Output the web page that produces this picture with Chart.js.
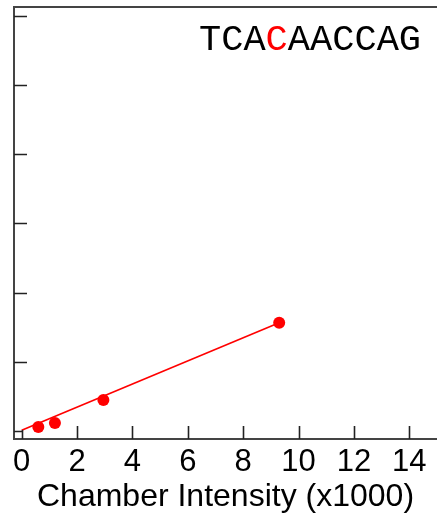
<!DOCTYPE html>
<html>
<head>
<meta charset="utf-8">
<script src="https://cdn.jsdelivr.net/npm/chart.js@4/dist/chart.umd.min.js"></script>
<style>
html,body{margin:0;padding:0;background:#fff;}
#wrap{width:437px;height:516px;position:relative;}
</style>
</head>
<body>
<div id="wrap"><canvas id="c" width="437" height="516"></canvas></div>
<script>
// Data
const intensityX = [0.6, 1.2, 2.95, 9.3];
const signalY = [0.058, 0.116, 0.448, 1.564];
const fitX = [0, 9.3];
const fitY = [0.01, 1.564];
const xTicks = [0, 2, 4, 6, 8, 10, 12, 14];
const yTicks = [0, 1, 2, 3, 4, 5, 6];
const seqLeft = "TCA";
const seqMark = "C";
const seqRight = "AACCAG";
const xTitle = "Chamber Intensity (x1000)";

const pts = intensityX.map((x, i) => ({x: x, y: signalY[i]}));
const fit = fitX.map((x, i) => ({x: x, y: fitY[i]}));

const framePlugin = {
  id: 'frame',
  afterDraw(chart) {
    const ctx = chart.ctx;
    const a = chart.chartArea;
    const xs = chart.scales.x, ys = chart.scales.y;
    ctx.save();
    // axis lines
    ctx.strokeStyle = '#444';
    ctx.lineWidth = 2;
    ctx.beginPath();
    ctx.moveTo(a.left - 1, a.top); ctx.lineTo(chart.width, a.top);
    ctx.moveTo(a.left, a.top); ctx.lineTo(a.left, a.bottom);
    ctx.moveTo(a.left - 1, a.bottom); ctx.lineTo(chart.width, a.bottom);
    ctx.stroke();
    // inward ticks
    ctx.strokeStyle = '#222';
    ctx.lineWidth = 1.6;
    ctx.beginPath();
    yTicks.forEach(v => {
      const py = Math.round(ys.getPixelForValue(v)) + 0.5;
      const len = v === 0 ? 8 : 13;
      ctx.moveTo(a.left, py); ctx.lineTo(a.left + len, py);
    });
    xTicks.forEach(v => {
      const px = Math.round(xs.getPixelForValue(v)) + 0.5;
      const len = v === 0 ? 9 : 13;
      ctx.moveTo(px, a.bottom); ctx.lineTo(px, a.bottom - len);
    });
    ctx.stroke();
    // sequence label
    ctx.font = '37px "Liberation Mono", "DejaVu Sans Mono", monospace';
    ctx.textBaseline = 'alphabetic';
    let x = 199;
    const y = 50;
    ctx.fillStyle = '#000';
    ctx.fillText(seqLeft, x, y); x += ctx.measureText(seqLeft).width;
    ctx.fillStyle = '#ff0000';
    ctx.fillText(seqMark, x, y); x += ctx.measureText(seqMark).width;
    ctx.fillStyle = '#000';
    ctx.fillText(seqRight, x, y);
    ctx.restore();
  }
};

new Chart(document.getElementById('c'), {
  type: 'scatter',
  data: {
    datasets: [
      {
        type: 'line',
        data: fit,
        borderColor: '#ff0000',
        borderWidth: 1.6,
        pointRadius: 0,
        fill: false,
        tension: 0
      },
      {
        data: pts,
        backgroundColor: '#ff0000',
        borderColor: '#ff0000',
        pointRadius: 6,
        pointBorderWidth: 0
      }
    ]
  },
  options: {
    responsive: false,
    animation: false,
    devicePixelRatio: 1,
    layout: {autoPadding: false, padding: {left: 14, top: 7, right: 0, bottom: 0}},
    plugins: {legend: {display: false}, tooltip: {enabled: false}},
    scales: {
      x: {
        type: 'linear',
        min: -0.278,
        max: 15.0,
        afterBuildTicks(scale) { scale.ticks = xTicks.map(v => ({value: v})); },
        afterFit(scale) { scale.height = 77; scale.paddingLeft = 0; scale.paddingRight = 0; },
        grid: {display: false, drawTicks: false},
        border: {display: false},
        ticks: {
          color: '#000',
          font: {family: '"Liberation Sans", Arial, sans-serif', size: 31},
          padding: 5,
          maxRotation: 0,
          autoSkip: false
        },
        title: {
          display: true,
          text: xTitle,
          color: '#000',
          font: {family: '"Liberation Sans", Arial, sans-serif', size: 32},
          padding: {top: 0, bottom: 0}
        }
      },
      y: {
        type: 'linear',
        min: -0.1155,
        max: 6.123,
        afterBuildTicks(scale) { scale.ticks = yTicks.map(v => ({value: v})); },
        afterFit(scale) { scale.width = 0; },
        grid: {display: false, drawTicks: false},
        border: {display: false},
        ticks: {display: false}
      }
    }
  },
  plugins: [framePlugin]
});
</script>
</body>
</html>
